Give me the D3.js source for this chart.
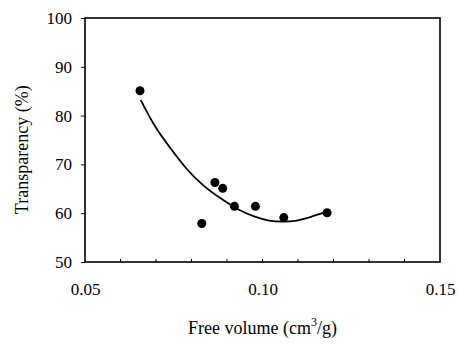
<!DOCTYPE html>
<html>
<head>
<meta charset="utf-8">
<script src="https://cdn.jsdelivr.net/npm/d3@7"></script>
<style>
  body { margin: 0; background: #fff; }
</style>
</head>
<body>
<div class="graphic"></div>
<script>
// measured points
const freeVolume = [0.0655, 0.0829, 0.0866, 0.0888, 0.0921, 0.0980, 0.1060, 0.1182];
const transparency = [85.1, 57.9, 66.3, 65.1, 61.4, 61.4, 59.1, 60.1];

// fitted trend line
const fitX = [0.0657, 0.0699, 0.0742, 0.0784, 0.0831, 0.0882, 0.0933, 0.0980, 0.1018, 0.1058, 0.1097, 0.1135, 0.1182];
const fitY = [83.2, 77.3, 73.2, 69.1, 65.7, 63.0, 60.6, 59.2, 58.4, 58.2, 58.4, 59.2, 60.3];

const xTicks = [0.05, 0.10, 0.15];
const yTicks = [50, 60, 70, 80, 90, 100];

const serif = '"Liberation Serif", "DejaVu Serif", "Times New Roman", serif';
const width = 458, height = 344;
const margin = {top: 18, right: 18, bottom: 82, left: 85};

const svg = d3.select('.graphic')
  .append('svg')
  .attr('width', width)
  .attr('height', height)
  .attr('font-family', serif);

const x = d3.scaleLinear().domain([0.05, 0.15]).range([margin.left, width - margin.right]);
const y = d3.scaleLinear().domain([50, 100]).range([height - margin.bottom, margin.top]);

// plot frame
svg.append('rect')
  .attr('x', x(0.05))
  .attr('y', y(100))
  .attr('width', x(0.15) - x(0.05))
  .attr('height', y(50) - y(100))
  .style('fill', 'none')
  .style('stroke', '#000')
  .style('stroke-width', 1.6);

// y axis
const yAxis = svg.append('g')
  .attr('transform', 'translate(' + x(0.05) + ',0)')
  .call(d3.axisLeft(y).tickValues(yTicks).tickSize(4).tickPadding(9).tickFormat(d3.format('d')));
yAxis.attr('font-family', serif);
yAxis.select('.domain').remove();
yAxis.selectAll('text').style('font-size', '17px').style('font-family', serif);

// x axis
const xAxis = svg.append('g')
  .attr('transform', 'translate(0,' + y(50) + ')')
  .call(d3.axisBottom(x).tickValues(xTicks).tickSize(0).tickPadding(21).tickFormat(d3.format('.2f')));
xAxis.attr('font-family', serif);
xAxis.select('.domain').remove();
xAxis.selectAll('text').style('font-size', '17px').style('font-family', serif);

// small inner ticks on x
svg.append('g')
  .selectAll('line')
  .data(d3.range(1, 10).map(i => 0.05 + i * 0.01))
  .enter().append('line')
  .attr('x1', d => x(d))
  .attr('x2', d => x(d))
  .attr('y1', y(50))
  .attr('y2', y(50) - 3)
  .style('stroke', '#000')
  .style('stroke-width', 1);

// fit curve
const fitData = fitX.map((d, i) => [d, fitY[i]]);
svg.append('path')
  .datum(fitData)
  .attr('d', d3.line().x(d => x(d[0])).y(d => y(d[1])).curve(d3.curveBasis))
  .style('fill', 'none')
  .style('stroke', '#000')
  .style('stroke-width', 1.8);

// points
svg.append('g')
  .selectAll('circle')
  .data(freeVolume.map((d, i) => [d, transparency[i]]))
  .enter().append('circle')
  .attr('cx', d => x(d[0]))
  .attr('cy', d => y(d[1]))
  .attr('r', 4.5)
  .style('fill', '#000');

// axis titles
const xt = svg.append('text')
  .attr('x', x(0.10))
  .attr('y', 334)
  .attr('text-anchor', 'middle')
  .style('font-family', serif)
  .style('font-size', '18px');
xt.append('tspan').text('Free volume (cm');
xt.append('tspan').attr('dy', -8).style('font-size', '12px').text('3');
xt.append('tspan').attr('dy', 8).text('/g)');

svg.append('text')
  .attr('transform', 'translate(28,' + y(73) + ') rotate(-90)')
  .attr('text-anchor', 'middle')
  .style('font-family', serif)
  .style('font-size', '18px')
  .text('Transparency (%)');
</script>
</body>
</html>
